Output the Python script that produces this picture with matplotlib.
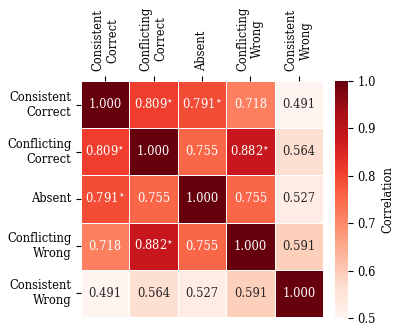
import matplotlib
matplotlib.use('Agg')

import numpy as np
import matplotlib.pyplot as plt
import seaborn as sns

# ==============================
# DATA
# ==============================

labels = ["Consistent\nCorrect", "Conflicting\nCorrect", "Absent",
          "Conflicting\nWrong", "Consistent\nWrong"]

row_cc = [1.000, 0.809, 0.791, 0.718, 0.491]
row_fc = [0.809, 1.000, 0.755, 0.882, 0.564]
row_ab = [0.791, 0.755, 1.000, 0.755, 0.527]
row_fw = [0.718, 0.882, 0.755, 1.000, 0.591]
row_cw = [0.491, 0.564, 0.527, 0.591, 1.000]

# significant off-diagonal pairs (marked with a star)
sig_pairs = [(0, 1), (0, 2), (1, 3)]

corr = np.array([row_cc, row_fc, row_ab, row_fw, row_cw])

annot = np.empty(corr.shape, dtype=object)
for i in range(corr.shape[0]):
    for j in range(corr.shape[1]):
        txt = f"{corr[i, j]:.3f}"
        if (i, j) in sig_pairs or (j, i) in sig_pairs:
            txt += r"$^{\star}$"
        annot[i, j] = txt

# ==============================
# PLOT
# ==============================

plt.rcParams['font.family'] = 'DejaVu Serif'
plt.rcParams['mathtext.fontset'] = 'dejavuserif'

fig = plt.figure(figsize=(3.97, 3.33), dpi=100)
ax = fig.add_axes([81 / 397, 16 / 333, 242 / 397, 236 / 333])
cax = fig.add_axes([335 / 397, 15 / 333, 13 / 397, 237 / 333])

sns.heatmap(corr, ax=ax, cbar_ax=cax, cmap="Reds", vmin=0.5, vmax=1.0,
            annot=annot, fmt="", annot_kws={"size": 8.3},
            linewidths=0.5, linecolor="white",
            xticklabels=labels, yticklabels=labels,
            cbar_kws={"label": "Correlation"})

ax.xaxis.tick_top()
ax.set_xticklabels(labels, rotation=90, fontsize=8.3,
                   ha='center', va='bottom')
ax.set_yticklabels(labels, rotation=0, fontsize=8.3)

cax.tick_params(labelsize=8.3)
cax.set_ylabel("Correlation", fontsize=8.3)
cax.set_yticks([0.5, 0.6, 0.7, 0.8, 0.9, 1.0])

fig.savefig("out.png", dpi=100)
